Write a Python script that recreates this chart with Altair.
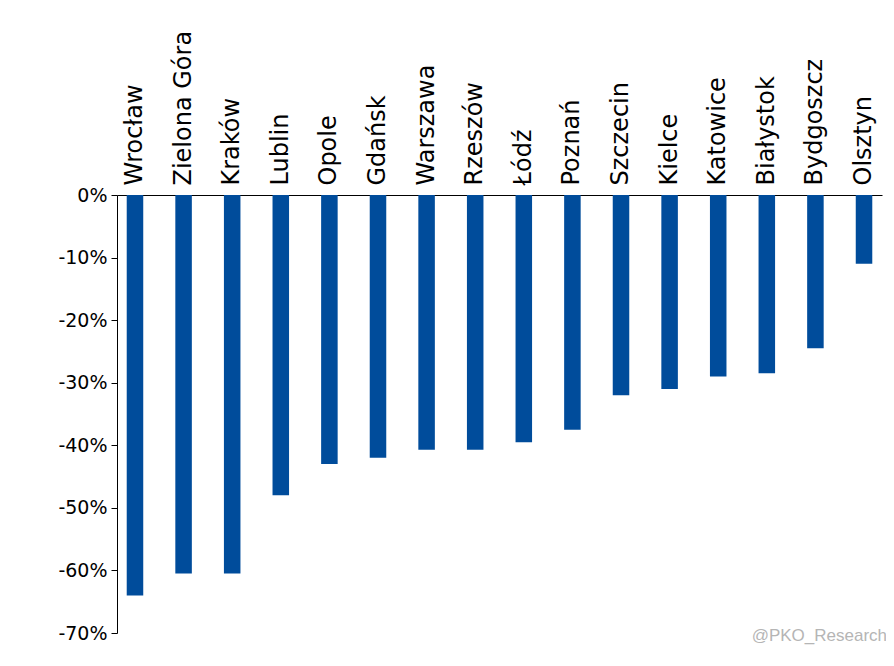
import altair as alt
import pandas as pd

cities = ["Wrocław", "Zielona Góra", "Kraków", "Lublin", "Opole", "Gdańsk", "Warszawa",
          "Rzeszów", "Łódź", "Poznań", "Szczecin", "Kielce", "Katowice", "Białystok",
          "Bydgoszcz", "Olsztyn"]
changes = [-64.0, -60.5, -60.5, -48.0, -43.0, -42.0, -40.7, -40.7, -39.5, -37.5,
           -32.0, -31.0, -29.0, -28.5, -24.5, -11.0]

df = pd.DataFrame({"city": cities, "change": changes})

bars = (
    alt.Chart(df)
    .mark_bar(color="#004C9B")
    .encode(
        x=alt.X("city:N", sort=cities, title=None,
                scale=alt.Scale(paddingInner=0.66, paddingOuter=0.2),
                axis=alt.Axis(orient="top", labelAngle=-90, labelAlign="left",
                              labelBaseline="middle", labelPadding=10, labelFontSize=24,
                              ticks=False, domainColor="black", labelColor="black")),
        y=alt.Y("change:Q", title=None,
                scale=alt.Scale(domain=[-70, 0], nice=False),
                axis=alt.Axis(values=list(range(-70, 1, 10)), labelExpr="datum.value + '%'",
                              grid=False, labelFontSize=19, tickSize=6, tickColor="black",
                              domainColor="black", labelColor="black", labelPadding=4)),
    )
)

mark = alt.Chart(pd.DataFrame({"t": ["@PKO_Research"]})).mark_text(
    align="right", baseline="bottom", fontSize=17, color="#b5b5b5"
).encode(text="t:N", x=alt.value(770), y=alt.value(450))

chart = (
    alt.layer(bars, mark)
    .properties(width=765, height=438,
                autosize=alt.AutoSizeParams(type="none"),
                padding={"left": 109, "top": 187, "right": 4, "bottom": 25})
    .configure_view(stroke=None)
    .configure_axis(labelFont="DejaVu Sans")
)

chart.save("out.html", embed_options={"renderer": "svg", "actions": False})
